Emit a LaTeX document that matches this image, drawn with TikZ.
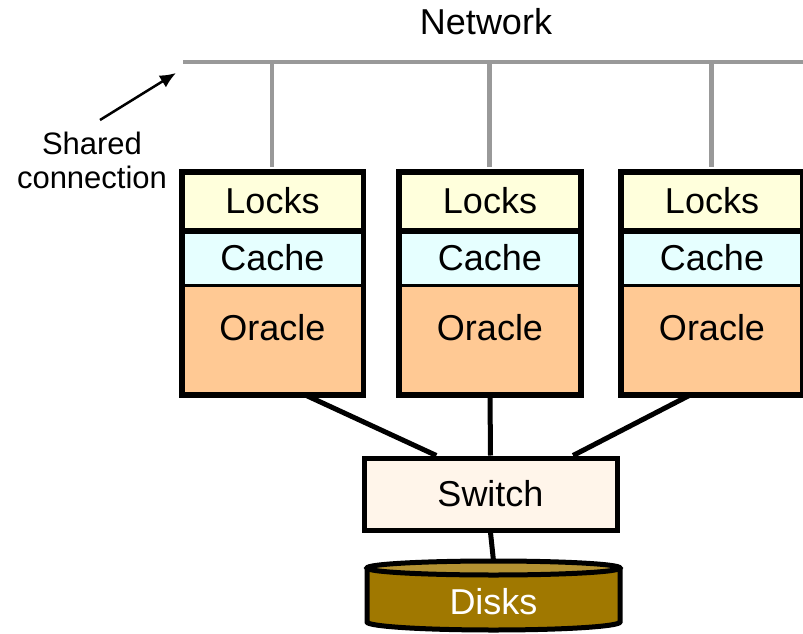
\documentclass[tikz,border=0pt]{standalone}
\usepackage{fontspec}
\setmainfont{Liberation Sans}
\usetikzlibrary{calc,arrows.meta}
\definecolor{lockc}{HTML}{FFFFDC}
\definecolor{cachec}{HTML}{E6FFFF}
\definecolor{oraclec}{HTML}{FFC994}
\definecolor{switchc}{HTML}{FFF5EA}
\definecolor{netc}{HTML}{999999}
\definecolor{diskc}{HTML}{A07800}
\definecolor{disktop}{HTML}{B49232}
\begin{document}
\begin{tikzpicture}[x=1pt,y=-1pt,
  big/.style={font=\fontsize{36}{40}\selectfont},
  sect/.style={draw=black,line width=3pt,minimum width=179pt,inner sep=0pt,anchor=north},
  lk/.style={sect,fill=lockc,minimum height=56pt},
  ca/.style={sect,fill=cachec,minimum height=56pt},
  orc/.style={sect,fill=oraclec,minimum height=108pt},
  net/.style={draw=netc,line width=4.5pt},
  wire/.style={draw=black,line width=5pt}]
\useasboundingbox (0,0) rectangle (803,634);
% network
\node[big] (nettxt) at (486,22) {Network};
\coordinate (nl) at (183,62);
\coordinate (nr) at (805,62);
\draw[net] (nl) -- (nr);
% boxes
\foreach \i/\cx in {1/272.5,2/490,3/712}{
  \node[lk] (lk\i) at (\cx,172) {};
  \node[ca] (ca\i) at (\cx,228) {};
  \node[orc] (or\i) at (\cx,284) {};
  \draw[line width=5.5pt] (lk\i.north west) rectangle (or\i.south east);
  \draw[line width=5.5pt] (lk\i.south west) -- (lk\i.south east);
  \node[big] (lkt\i) at (\cx,201) {Locks};
  \node[big] (cat\i) at (\cx,258) {Cache};
  \node[big] (ort\i) at (\cx,328) {Oracle};
  \coordinate (np\i) at (\cx-0.5,62);
  \draw[net] (np\i) -- ($(lk\i.north)+(-0.5,-5)$);
}
% switch
\node[draw=black,line width=5pt,fill=switchc,minimum width=253pt,minimum height=72pt,inner sep=0pt,big] (sw) at (490.5,494) {Switch};
\draw[wire] ($(or1.south west)!0.68!(or1.south east)$) -- ($(sw.north west)!0.29!(sw.north east)$);
\draw[wire] (or2.south) -- (sw.north);
\draw[wire] ($(or3.south west)!0.38!(or3.south east)$) -- ($(sw.north west)!0.82!(sw.north east)$);
% disks
\coordinate (dtop) at (493.5,561);
\fill[diskc] (367,568) -- (367,622) arc[start angle=180,end angle=360,x radius=126.5pt,y radius=8pt] -- (620,568) -- cycle;
\draw[line width=5pt] (367,568) -- (367,622) arc[start angle=180,end angle=360,x radius=126.5pt,y radius=8pt] -- (620,568);
\draw[line width=5pt,fill=disktop] (493.5,568) ellipse[x radius=126.5pt,y radius=7pt];
\node[big,text=white] (dk) at (493.5,602) {Disks};
\draw[wire] (sw.south) -- (dtop);
% shared connection
\node[font=\fontsize{31}{34}\selectfont,align=center] (sc) at (92,160) {Shared\\connection};
\coordinate (tail) at (100,120);
\coordinate (tip) at (176,73);
\draw[line width=2.5pt,-{Latex[length=16pt,width=14pt]}] (tail) -- (tip);
\end{tikzpicture}
\end{document}
